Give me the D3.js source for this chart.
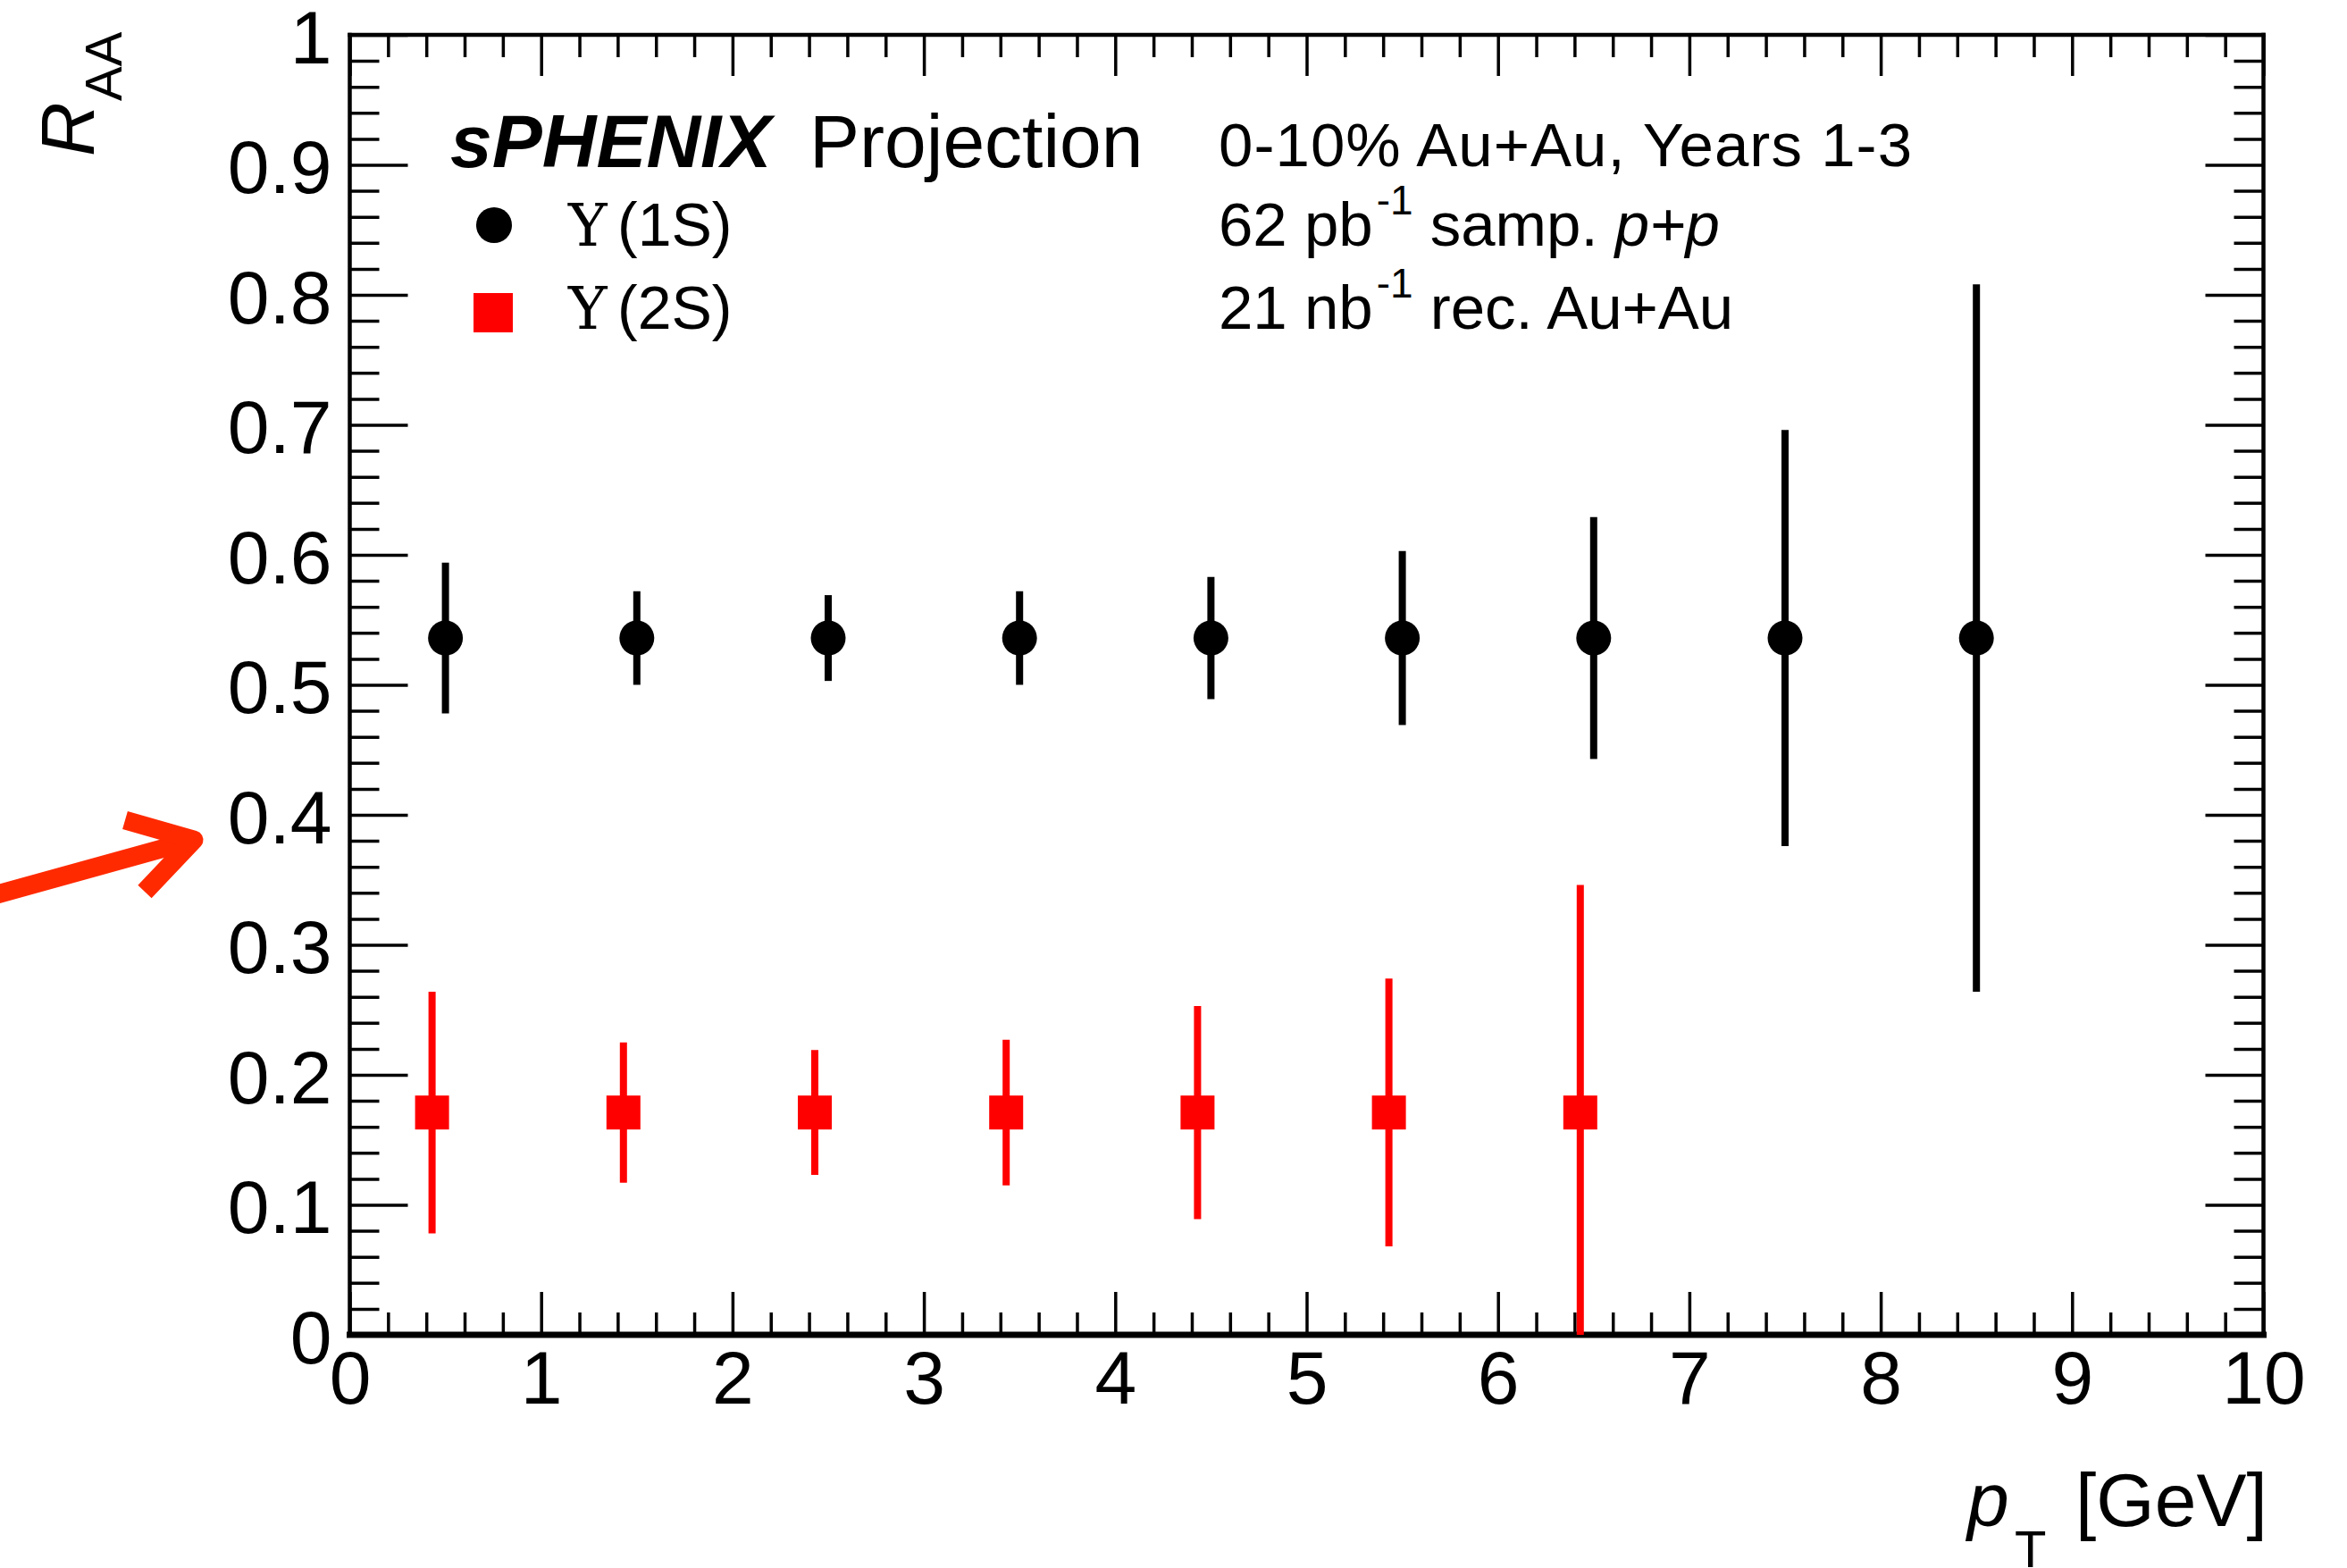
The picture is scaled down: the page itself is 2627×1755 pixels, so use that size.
<!DOCTYPE html>
<html>
<head>
<meta charset="utf-8">
<script src="https://cdn.jsdelivr.net/npm/d3@7"></script>
<style>
  html, body { margin: 0; padding: 0; background: #fff; }
  svg { display: block; }
  text { font-family: "Liberation Sans", Arial, Helvetica, sans-serif; fill: #000; }
</style>
</head>
<body>
<svg id="chart" width="2627" height="1755"></svg>
<script>
// Upsilon(1S) projected R_AA vs pT
const pt1S   = [0.5, 1.5, 2.5, 3.5, 4.5, 5.5, 6.5, 7.5, 8.5];
const raa1S  = [0.536, 0.536, 0.536, 0.536, 0.536, 0.536, 0.536, 0.536, 0.536];
const err1S  = [0.058, 0.036, 0.033, 0.036, 0.047, 0.067, 0.093, 0.160, 0.272];

// Upsilon(2S) projected R_AA vs pT (shifted slightly in pT for visibility)
const pt2S   = [0.43, 1.43, 2.43, 3.43, 4.43, 5.43, 6.43];
const raa2S  = [0.171, 0.171, 0.171, 0.171, 0.171, 0.171, 0.171];
const err2S  = [0.093, 0.054, 0.048, 0.056, 0.082, 0.103, 0.175];

// Axis ticks
const xMajor = [0, 1, 2, 3, 4, 5, 6, 7, 8, 9, 10];
const xTickLabels = ["0", "1", "2", "3", "4", "5", "6", "7", "8", "9", "10"];
const yMajor = [0, 0.1, 0.2, 0.3, 0.4, 0.5, 0.6, 0.7, 0.8, 0.9, 1];
const yTickLabels = ["0", "0.1", "0.2", "0.3", "0.4", "0.5", "0.6", "0.7", "0.8", "0.9", "1"];

(function () {
const svg = d3.select("#chart");
const pLeft = 391.5, pRight = 2533.5, pTop = 39, pBottom = 1494;

const x = d3.scaleLinear().domain([0, 10]).range([pLeft, pRight]);
const y = d3.scaleLinear().domain([0, 1]).range([pBottom, pTop]);

const xMinor = d3.range(0, 50).map(i => Math.round(i * 2) / 10).filter(v => Math.round(v * 10) % 10 !== 0);
const yMinor = d3.range(0, 50).map(i => Math.round(i * 2) / 100).filter(v => Math.round(v * 100) % 10 !== 0);

function styleAxis(g) {
  g.select(".domain").remove();
  g.selectAll(".tick line").attr("stroke", "#000").attr("stroke-width", 3.5);
}

// bottom axis: major with labels, minor ticks
svg.append("g").attr("transform", `translate(0,${pBottom})`)
  .call(d3.axisBottom(x).tickValues(xMajor).tickSize(-48).tickPadding(17)
    .tickFormat((d, i) => xTickLabels[i]))
  .call(styleAxis)
  .call(g => g.selectAll(".tick text").attr("font-size", 84)
    .attr("font-family", "Liberation Sans, Arial, sans-serif").attr("fill", "#000"));
svg.append("g").attr("transform", `translate(0,${pBottom})`)
  .call(d3.axisBottom(x).tickValues(xMinor).tickSize(-25).tickFormat(""))
  .call(styleAxis);

// top axis (ticks only)
svg.append("g").attr("transform", `translate(0,${pTop})`)
  .call(d3.axisTop(x).tickValues(xMajor).tickSize(-46).tickFormat(""))
  .call(styleAxis);
svg.append("g").attr("transform", `translate(0,${pTop})`)
  .call(d3.axisTop(x).tickValues(xMinor).tickSize(-25).tickFormat(""))
  .call(styleAxis);

// left axis
svg.append("g").attr("transform", `translate(${pLeft},0)`)
  .call(d3.axisLeft(y).tickValues(yMajor).tickSize(-65).tickPadding(20)
    .tickFormat((d, i) => yTickLabels[i]))
  .call(styleAxis)
  .call(g => g.selectAll(".tick text").attr("font-size", 84).attr("dy", "0.37em")
    .attr("font-family", "Liberation Sans, Arial, sans-serif").attr("fill", "#000"));
svg.append("g").attr("transform", `translate(${pLeft},0)`)
  .call(d3.axisLeft(y).tickValues(yMinor).tickSize(-33).tickFormat(""))
  .call(styleAxis);

// right axis (ticks only)
svg.append("g").attr("transform", `translate(${pRight},0)`)
  .call(d3.axisRight(y).tickValues(yMajor).tickSize(-65).tickFormat(""))
  .call(styleAxis);
svg.append("g").attr("transform", `translate(${pRight},0)`)
  .call(d3.axisRight(y).tickValues(yMinor).tickSize(-33).tickFormat(""))
  .call(styleAxis);

// frame
const frame = svg.append("g").attr("stroke", "#000").attr("stroke-linecap", "square");
frame.append("line").attr("x1", pLeft).attr("x2", pRight).attr("y1", pTop).attr("y2", pTop).attr("stroke-width", 4.5);
frame.append("line").attr("x1", pLeft).attr("x2", pLeft).attr("y1", pTop).attr("y2", pBottom).attr("stroke-width", 4.5);
frame.append("line").attr("x1", pRight).attr("x2", pRight).attr("y1", pTop).attr("y2", pBottom).attr("stroke-width", 4.5);
frame.append("line").attr("x1", pLeft).attr("x2", pRight).attr("y1", pBottom).attr("y2", pBottom).attr("stroke-width", 7);

// data
const ups1S = pt1S.map((p, i) => ({ pt: p, v: raa1S[i], e: err1S[i] }));
const ups2S = pt2S.map((p, i) => ({ pt: p, v: raa2S[i], e: err2S[i] }));
const clampY = v => y(Math.max(0, Math.min(1, v)));

function errorBars(data, color) {
  svg.append("g").selectAll("line").data(data).join("line")
    .attr("x1", d => x(d.pt)).attr("x2", d => x(d.pt))
    .attr("y1", d => clampY(d.v - d.e)).attr("y2", d => clampY(d.v + d.e))
    .attr("stroke", color).attr("stroke-width", 8);
}
errorBars(ups1S, "#000");
errorBars(ups2S, "#ff0000");

svg.append("g").selectAll("circle").data(ups1S).join("circle")
  .attr("cx", d => x(d.pt)).attr("cy", d => y(d.v)).attr("r", 19.5).attr("fill", "#000");
const sq = 38;
svg.append("g").selectAll("rect").data(ups2S).join("rect")
  .attr("x", d => x(d.pt) - sq / 2).attr("y", d => y(d.v) - sq / 2)
  .attr("width", sq).attr("height", sq).attr("fill", "#ff0000");

// legend and labels
svg.append("text").attr("x", 504).attr("y", 187).attr("font-size", 84)
  .attr("font-weight", "bold").attr("font-style", "italic").text("sPHENIX");
svg.append("text").attr("x", 906).attr("y", 187).attr("font-size", 84).text("Projection");

svg.append("circle").attr("cx", 553).attr("cy", 252).attr("r", 20).attr("fill", "#000");
svg.append("rect").attr("x", 530).attr("y", 328).attr("width", 44).attr("height", 44).attr("fill", "#ff0000");

const upsFont = "DejaVu Serif, Liberation Serif, serif";
const leg1 = svg.append("text").attr("y", 275).attr("font-size", 68);
leg1.append("tspan").attr("x", 636).attr("font-family", upsFont).attr("font-size", 66).text("Υ");
leg1.append("tspan").attr("x", 691).text("(1S)");
const leg2 = svg.append("text").attr("y", 368).attr("font-size", 68);
leg2.append("tspan").attr("x", 636).attr("font-family", upsFont).attr("font-size", 66).text("Υ");
leg2.append("tspan").attr("x", 691).text("(2S)");

svg.append("text").attr("x", 1364).attr("y", 186).attr("font-size", 69)
  .attr("textLength", 776).attr("lengthAdjust", "spacing").text("0-10% Au+Au, Years 1-3");

const l2 = svg.append("text").attr("x", 1364).attr("y", 275).attr("font-size", 69);
l2.append("tspan").text("62 pb");
l2.append("tspan").attr("dx", 4).attr("dy", -35).attr("font-size", 46).text("-1");
l2.append("tspan").attr("dy", 35).text(" samp. ");
l2.append("tspan").attr("font-style", "italic").text("p+p");

const l3 = svg.append("text").attr("x", 1364).attr("y", 368).attr("font-size", 69);
l3.append("tspan").text("21 nb");
l3.append("tspan").attr("dx", 4).attr("dy", -35).attr("font-size", 46).text("-1");
l3.append("tspan").attr("dy", 35).text(" rec. Au+Au");

// axis titles
const xt = svg.append("text").attr("y", 1708).attr("font-size", 84);
xt.append("tspan").attr("x", 2202).attr("font-style", "italic").text("p");
xt.append("tspan").attr("x", 2255).attr("dy", 46).attr("font-size", 58).text("T");
xt.append("tspan").attr("x", 2323).attr("dy", -46).text("[GeV]");

const yt = svg.append("text").attr("transform", "translate(105,175) rotate(-90)").attr("font-size", 84);
yt.append("tspan").attr("x", 0).attr("y", 0).attr("font-style", "italic").text("R");
yt.append("tspan").attr("x", 62).attr("y", 31).attr("font-size", 58).text("AA");

// annotation arrow pointing at the 0.4 label
const arrow = svg.append("g").attr("fill", "none").attr("stroke", "#ff2a00").attr("stroke-width", 21);
arrow.append("path").attr("d", d3.line()([[-10, 1003], [217, 940]]));
arrow.append("path").attr("d", d3.line()([[140, 918], [217, 940], [162, 998]]))
  .attr("stroke-linejoin", "round");
})();
</script>
</body>
</html>
